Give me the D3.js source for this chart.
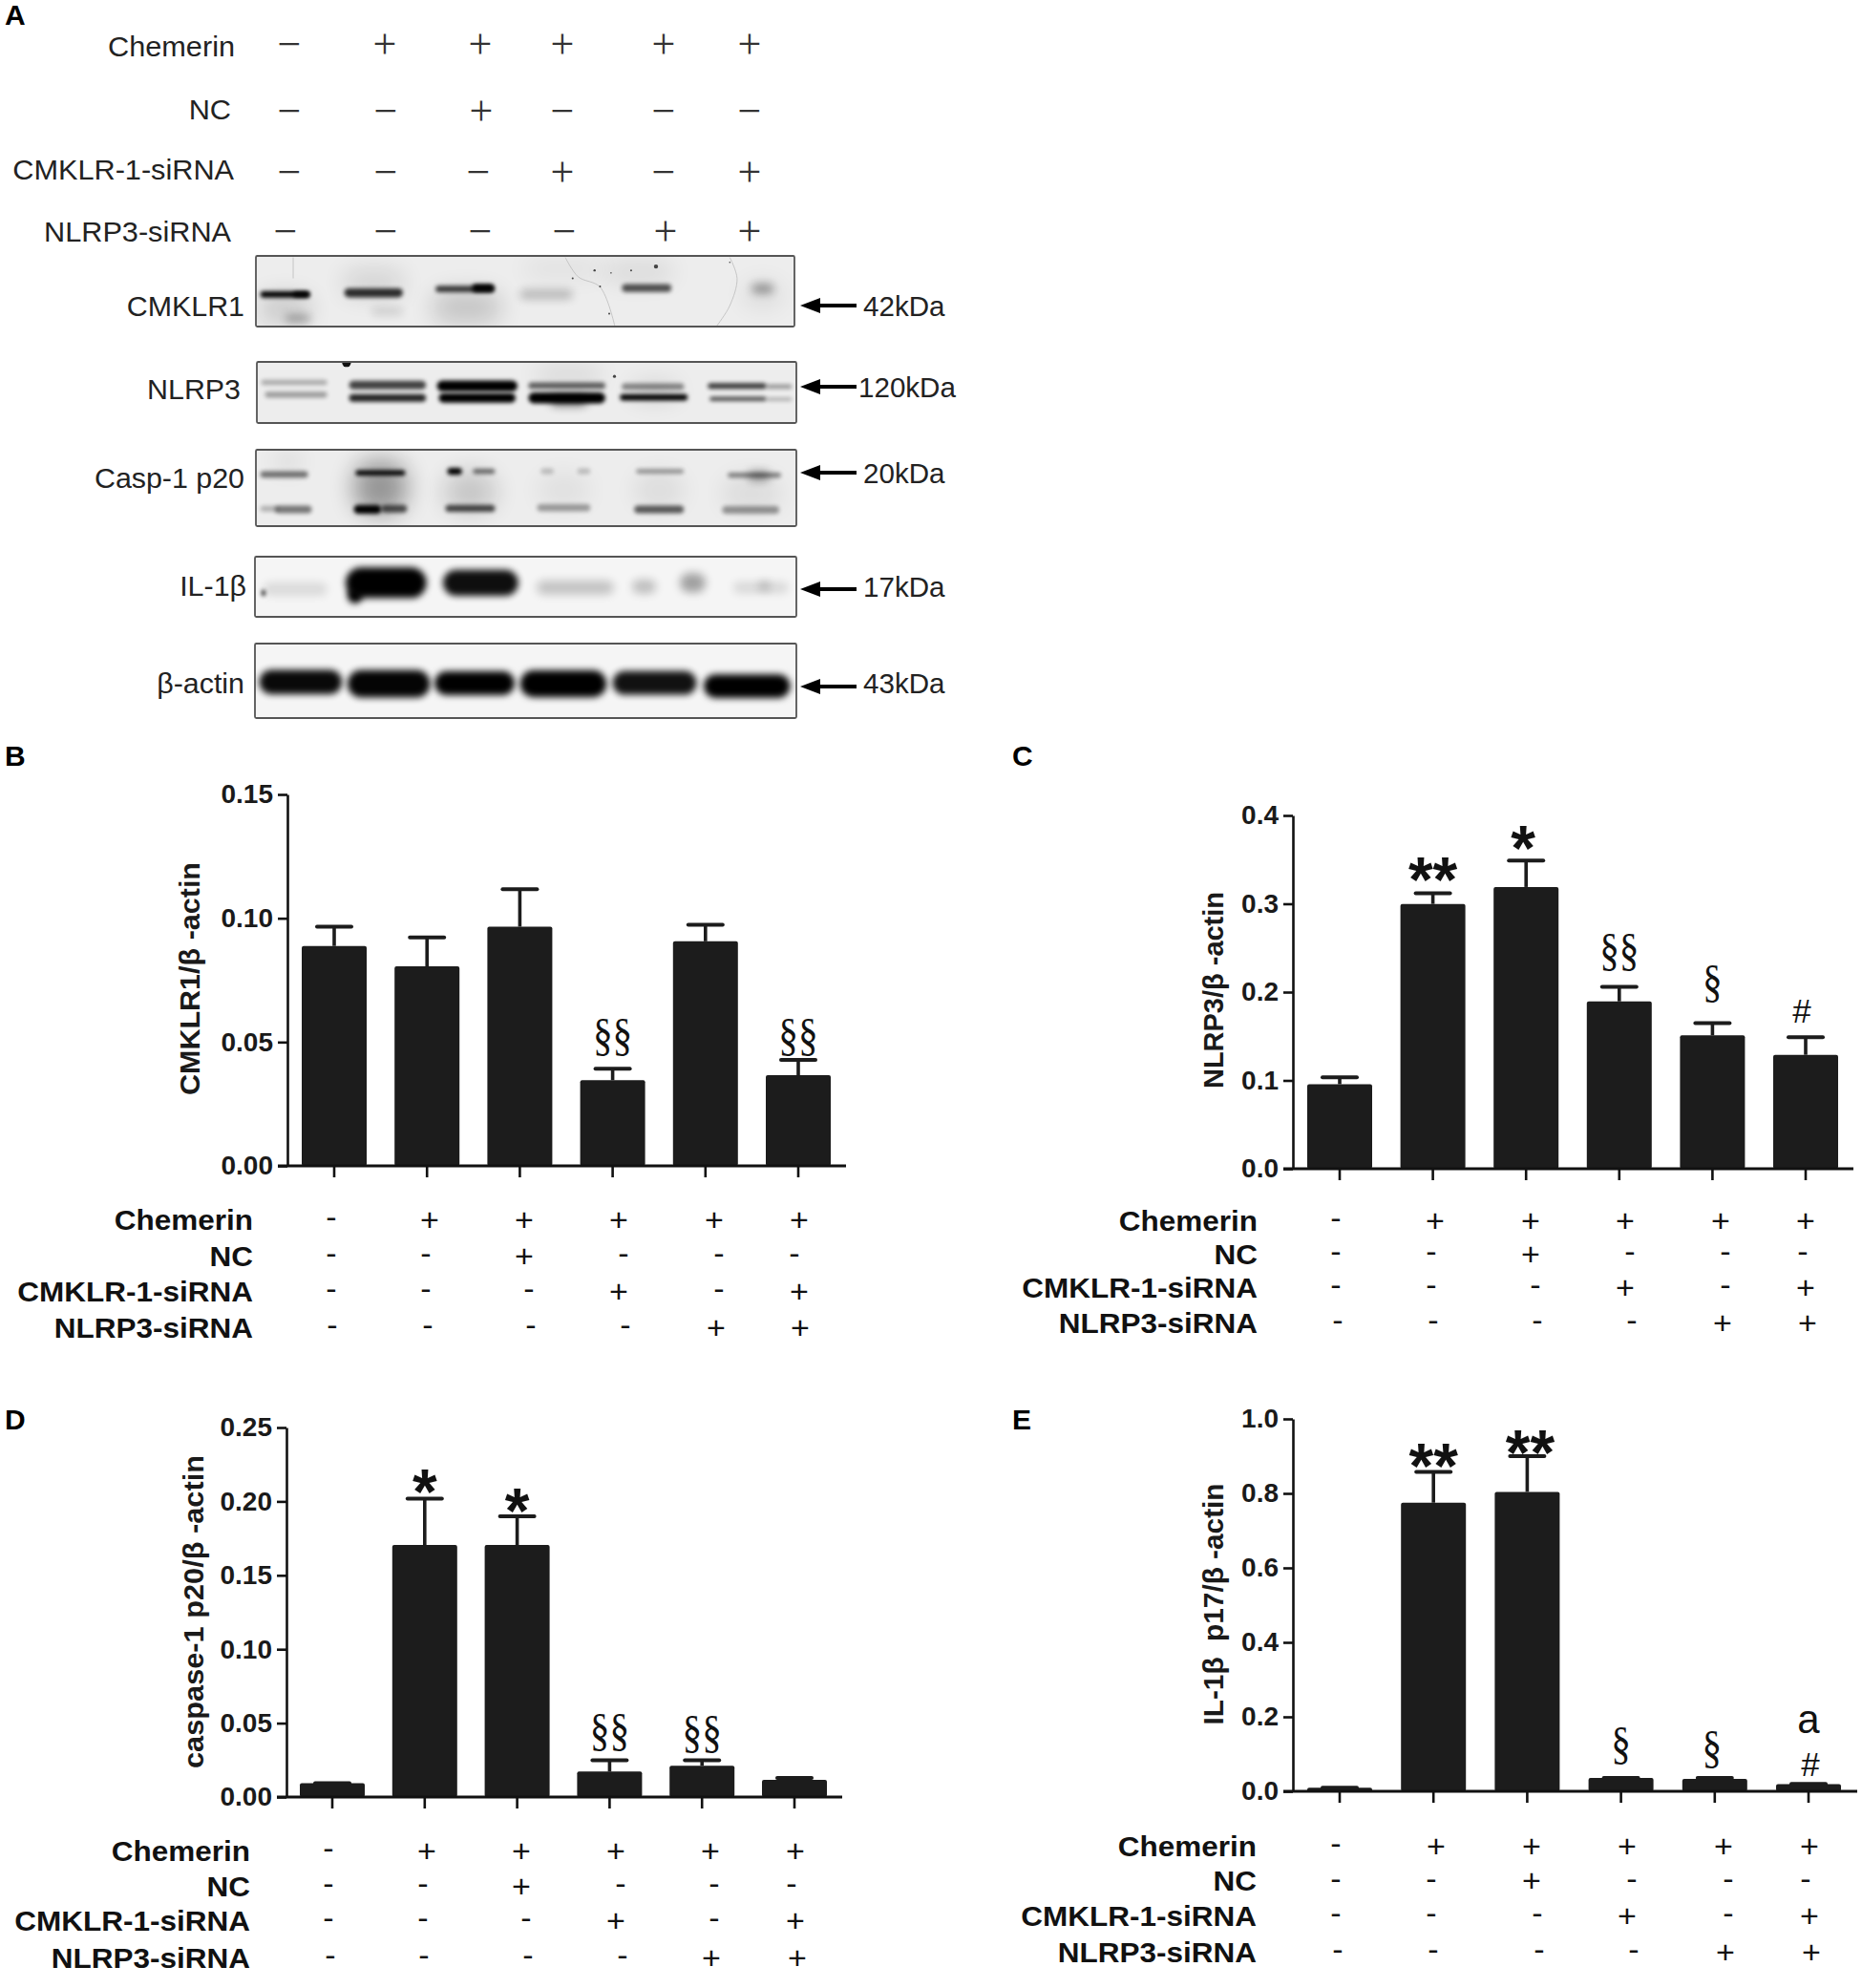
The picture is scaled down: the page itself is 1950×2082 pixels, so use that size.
<!DOCTYPE html>
<html><head><meta charset="utf-8">
<script src="https://cdn.jsdelivr.net/npm/d3@7"></script>
<style>html,body{margin:0;padding:0;background:#fff}svg{display:block}text{font-family:"Liberation Sans",Arial,sans-serif;fill:#1a1a1a}</style>
</head><body><svg id="fig" width="1950" height="2082" viewBox="0 0 1950 2082"></svg>
<script>
// ---- Data ----
const rowNames = ["Chemerin","NC","CMKLR-1-siRNA","NLRP3-siRNA"];
const chemerin = ["-","+","+","+","+","+"];
const nc       = ["-","-","+","-","-","-"];
const cmklrSi  = ["-","-","-","+","-","+"];
const nlrp3Si  = ["-","-","-","-","+","+"];
const conditions = [chemerin,nc,cmklrSi,nlrp3Si];

const valuesB = [0.0888,0.0806,0.0966,0.0346,0.0907,0.0366];
const errTopB = [0.0966,0.0923,0.1117,0.0392,0.0974,0.0428];
const ticksB  = [0,0.05,0.10,0.15];
const valuesC = [0.0957,0.2998,0.319,0.1895,0.151,0.129];
const errTopC = [0.1034,0.312,0.349,0.206,0.165,0.149];
const ticksC  = [0,0.1,0.2,0.3,0.4];
const valuesD = [0.0093,0.1705,0.1705,0.0172,0.0212,0.0117];
const errTopD = [0.0093,0.2018,0.190,0.0249,0.0249,0.0130];
const ticksD  = [0,0.05,0.10,0.15,0.20,0.25];
const valuesE = [0.0094,0.775,0.804,0.0357,0.0336,0.019];
const errTopE = [0.0094,0.858,0.900,0.036,0.036,0.020];
const ticksE  = [0,0.2,0.4,0.6,0.8,1.0];

const blotNames = ["CMKLR1","NLRP3","Casp-1 p20","IL-1β","β-actin"];
const blotSizes = ["42kDa","120kDa","20kDa","17kDa","43kDa"];
// Band readings from the scan: [from, to, centre, thickness, density, softness]
const bandsCMKLR1 = [
 [55,200,220,90,.15,3],[130,195,250,18,.4,2],[60,195,175,20,1,1],[150,195,175,16,.9,1],
 [285,455,140,90,.1,3],[290,450,170,28,.8,1],[365,450,228,22,.14,2],
 [530,720,215,100,.17,3],[540,700,158,20,.75,1],[640,700,155,24,1,1],
 [770,915,175,30,.22,2],[780,1000,95,60,.05,3],
 [1050,1185,155,24,.66,1],[1000,1190,105,70,.08,3],
 [1405,1465,157,30,.36,2],[1380,1490,175,80,.07,3]];
const bandsNLRP3 = [
 [60,240,452,16,.28,1],[70,240,490,18,.34,1],
 [300,510,460,27,.72,1],[300,510,500,24,.85,1],
 [540,760,463,34,1,1],[545,755,500,30,1,1],
 [790,1000,462,20,.6,1],[790,1000,500,34,1,1],[850,950,510,30,.5,2],[810,990,430,50,.1,3],
 [1045,1215,465,20,.44,1],[1040,1225,498,20,1,1],[1070,1200,480,60,.1,3],
 [1280,1440,463,18,.76,1],[1440,1510,465,14,.36,1],[1285,1440,503,14,.68,1],[1440,1510,504,10,.3,1]];
const bandsCasp = [
 [60,190,110,20,.52,1],[100,170,70,50,.1,3],[60,110,218,18,.25,1],[100,200,220,24,.5,1],
 [315,460,150,170,.36,3],[320,455,105,16,1,1],[315,390,220,28,1,1],[390,460,218,24,.65,1],
 [560,705,165,130,.16,3],[570,610,100,22,1,1],[640,700,100,16,.55,1],[565,700,217,22,.7,1],
 [825,860,100,18,.2,1],[925,960,100,18,.2,1],[815,960,215,22,.34,1],[815,960,160,110,.05,3],
 [1085,1215,100,14,.38,1],[1080,1215,220,24,.62,1],[1080,1215,160,110,.07,3],
 [1335,1480,112,16,.45,1],[1390,1450,115,30,.38,2],[1320,1475,222,24,.38,1],[1320,1480,170,110,.07,3]];
const bandsIL1b = [
 [70,245,470,40,.11,2],[66,76,482,20,.9,1],
 [295,515,450,96,1,1.5],[300,340,490,50,1,1.5],
 [560,765,450,82,.94,1.5],
 [815,1025,465,44,.2,2],
 [1075,1140,462,44,.22,2],[1205,1275,450,60,.34,2],
 [1350,1500,465,34,.12,2],[1420,1450,460,34,.18,2]];
const bandsActin = [
 [60,285,762,76,.96,1.5],[300,525,768,86,.98,1.5],[537,755,766,74,1,1.5],
 [770,1005,768,84,1,1.5],[1022,1250,765,74,.93,1.5],[1270,1505,775,74,1,1.5]];
const blotBands = [bandsCMKLR1,bandsNLRP3,bandsCasp,bandsIL1b,bandsActin];

// ---- Layout ----
const svg = d3.select("#fig");
const defs = svg.append("defs");
[[1,2.2],[1.5,3.6],[2,5],[3,12]].forEach(([k,s])=>{
  defs.append("filter").attr("id","soft"+String(k).replace(".","_"))
    .attr("filterUnits","userSpaceOnUse").attr("x",240).attr("y",250).attr("width",620).attr("height",520)
    .append("feGaussianBlur").attr("stdDeviation",s);
});
function txt(g,x,y,s,o={}){
  return g.append("text").attr("transform",`translate(${x},${y}) scale(${o.sx||1},1)`)
   .attr("font-size",o.size||28).attr("font-weight",o.weight||"normal")
   .attr("text-anchor",o.anchor||"start")
   .style("font-family",o.family||null).style("fill",o.fill||null).text(s);
}
const blotLayout = [
 {x0:268,x1:832,y0:268,y1:342,dy:[55,275],arrow:320,ly:320,lr:256,sy:320},
 {x0:269,x1:834,y0:379,y1:443,dy:[388,578],arrow:405,ly:407,lr:252,sy:405},
 {x0:268,x1:834,y0:471,y1:551,dy:[32,273],arrow:495,ly:500,lr:256,sy:495},
 {x0:267,x1:834,y0:583,y1:646,dy:[368,557],arrow:617,ly:613,lr:258,sy:614},
 {x0:267,x1:834,y0:674,y1:752,dy:[642,875],arrow:719,ly:715,lr:256,sy:715}];
const blots = svg.append("g");
blotLayout.forEach((b,i)=>{
  const gx=d3.scaleLinear().domain([48,1522]).range([b.x0,b.x1]);
  const gy=d3.scaleLinear().domain(b.dy).range([b.y0,b.y1]);
  const id="clipb"+i;
  defs.append("clipPath").attr("id",id).append("rect").attr("x",b.x0).attr("y",b.y0).attr("width",b.x1-b.x0).attr("height",b.y1-b.y0);
  const g=blots.append("g");
  const inner=g.append("g").attr("clip-path",`url(#${id})`);
  inner.append("rect").attr("x",b.x0).attr("y",b.y0).attr("width",b.x1-b.x0).attr("height",b.y1-b.y0).attr("fill",i<3?"#ededed":"#f5f5f5");
  inner.selectAll("rect.band").data(blotBands[i]).join("rect").attr("class","band")
   .attr("x",d=>gx(d[0])).attr("width",d=>gx(d[1])-gx(d[0]))
   .attr("y",d=>gy(d[2])-(gy(d[3])-gy(0))/2).attr("height",d=>gy(d[3])-gy(0))
   .attr("rx",d=>Math.min(22,(gy(d[3])-gy(0))/2)).attr("fill","#000").attr("opacity",d=>d[4])
   .attr("filter",d=>`url(#soft${String(d[5]).replace(".","_")})`);
  if(i===0){
    const crack=d3.line().x(d=>gx(d[0])).y(d=>gy(d[1])).curve(d3.curveCatmullRom);
    [[[895,60],[930,120],[990,152],[1030,272]],[[1345,60],[1365,125],[1345,210],[1310,272]],[[150,60],[150,125]]].forEach(p=>
      inner.append("path").attr("d",crack(p)).attr("fill","none").attr("stroke","#bbb").attr("stroke-width",.8));
    [[975,100,1.2],[1143,88,2.2],[1075,100,1],[915,125,1],[990,150,1],[1015,235,1],[1345,75,.8],[1020,108,.8]].forEach(p=>
      inner.append("circle").attr("cx",gx(p[0])).attr("cy",gy(p[1])).attr("r",p[2]).attr("fill","#444"));
  }
  if(i===1){
    inner.append("ellipse").attr("cx",gx(293)).attr("cy",gy(392)).attr("rx",4.5).attr("ry",4).attr("fill","#111");
    inner.append("circle").attr("cx",gx(1025)).attr("cy",gy(433)).attr("r",1.6).attr("fill","#444");
  }
  g.append("rect").attr("x",b.x0).attr("y",b.y0).attr("width",b.x1-b.x0).attr("height",b.y1-b.y0)
   .attr("rx",1.5).attr("fill","none").attr("stroke","#555").attr("stroke-width",1.8);
  // name, arrow, size
  txt(g,b.lr,b.ly+10.5,blotNames[i],{size:29.5,anchor:"end",sx:1.03,fill:"#222"});
  const ay=b.arrow, tip=838;
  g.append("path").attr("d",`M${tip},${ay}L${tip+21},${ay-8}L${tip+21},${ay-2}L897,${ay-2}L897,${ay+2}L${tip+21},${ay+2}L${tip+21},${ay+8}Z`).attr("fill","#000");
  txt(g,i===1?899:904,b.sy+10.5,blotSizes[i],{size:29,sx:1.02,fill:"#222"});
});

// top condition rows
const topMarkY=[50,120,184,246];
const topLabelBase=[59,125,188,253];
const topLabelRight=[246,242,245,242];
const topX=[[303,403,503,589,695,785],[303,404,504,589,695,785],[303,404,501,589,695,785],[299,404,503,591,697,785]];
const topG=svg.append("g");
rowNames.forEach((n,r)=>{
  txt(topG,topLabelRight[r],topLabelBase[r],n,{size:29.5,anchor:"end",sx:1.04,fill:"#222"});
  conditions[r].forEach((c,i)=>{
    const s=44,fam='"Liberation Serif"';
    txt(topG,topX[r][i],topMarkY[r]+(c==="+"?.24:.25)*s,c==="+"?"+":"−",{size:s,anchor:"middle",family:fam,fill:"#333"});
  });
});

// panel letters
[["A",5,26],["B",5,802],["C",1060,802],["D",5,1497],["E",1060,1497]].forEach(d=>txt(svg,d[1],d[2],d[0],{size:30,weight:"bold",fill:"#000"}));

// bar panels
const panels=[
 {values:valuesB,err:errTopB,ticks:ticksB,fmt:".2f",max:.15,axisX:301,top:832,zero:1221,c0:350,c5:836,right:886,
  title:"CMKLR1/β -actin",tx:209,tc:1025,tl:244,labelRight:265,rowY:[1277,1315,1352,1390],
  rowX:[[347,450,549,648,748,837],[347,446,549,653,753,832],[347,446,554,648,753,837],[348,448,556,655,750,838]],
  notes:[{bar:3,s:"§§",up:12.5},{bar:5,s:"§§",up:3}]},
 {values:valuesC,err:errTopC,ticks:ticksC,fmt:".1f",max:.4,axisX:1354,top:854,zero:1224,c0:1403,c5:1891,right:1941,
  title:"NLRP3/β -actin",tx:1281,tc:1037,tl:206,labelRight:1317,rowY:[1278,1313,1348,1385],
  rowX:[[1399,1503,1603,1702,1802,1891],[1399,1499,1603,1707,1807,1888],[1399,1499,1608,1702,1807,1891],[1401,1501,1610,1709,1804,1893]],
  notes:[{bar:1,s:"**",up:18},{bar:2,s:"*",up:17.5,dx:-3},{bar:3,s:"§§",up:15.5},{bar:4,s:"§",up:20},{bar:5,s:"#",up:15,dx:-4}]},
 {values:valuesD,err:errTopD,ticks:ticksD,fmt:".2f",max:.25,axisX:300,top:1495,zero:1882,c0:348,c5:832,right:882,
  title:"caspase-1 p20/β -actin",tx:213,tc:1688,tl:328,labelRight:262,rowY:[1938,1975,2011,2050],
  rowX:[[344,447,546,645,744,833],[344,443,546,650,748,829],[344,443,551,645,748,833],[346,444,553,652,745,835]],
  notes:[{bar:1,s:"*",up:11.6},{bar:2,s:"*",up:10},{bar:3,s:"§§",up:8.5},{bar:4,s:"§§",up:6.5}]},
 {values:valuesE,err:errTopE,ticks:ticksE,fmt:".1f",max:1,axisX:1354,top:1486,zero:1876,c0:1403,c5:1894,right:1945,
  title:"IL-1β\u00a0\u00a0p17/β -actin",tx:1281,tc:1680,tl:253,labelRight:1316,rowY:[1933,1969.5,2006,2044],
  rowX:[[1399,1504,1604,1704,1805,1895],[1399,1499,1604,1709,1810,1891],[1399,1499,1610,1704,1810,1895],[1401,1501,1612,1711,1807,1897]],
  notes:[{bar:1,s:"**",up:10},{bar:2,s:"**",up:8,dx:3},{bar:3,s:"§",up:13},{bar:4,s:"§",up:9,dx:-3},{bar:5,s:"#",up:8,dx:2},{bar:5,s:"a",up:53}]}
];
const noteStyle={
 "§":{size:48,sx:.86,down:-7,family:'"Liberation Serif"',weight:"normal"},
 "*":{size:66,down:27,weight:"bold"},
 "#":{size:35,down:0,weight:"normal"},
 "a":{size:42,down:0,weight:"normal"}};
panels.forEach(p=>{
  const g=svg.append("g");
  const y=d3.scaleLinear().domain([0,p.max]).range([p.zero,p.top]);
  const step=(p.c5-p.c0)/5;
  const x=d3.scaleBand().domain(d3.range(6)).range([p.c0-step/2,p.c5+step/2]).paddingInner(1-68/step).paddingOuter((1-68/step)/2);
  const mid=i=>x(i)+x.bandwidth()/2;
  // bars
  g.selectAll("rect.bar").data(p.values).join("rect").attr("class","bar")
   .attr("x",(d,i)=>x(i)).attr("width",x.bandwidth())
   .attr("y",d=>y(d)).attr("height",d=>p.zero-y(d)).attr("rx",2).attr("fill","#1c1c1c");
  // error bars
  g.selectAll("line.err").data(p.err).join("line").attr("class","err")
   .attr("x1",(d,i)=>mid(i)).attr("x2",(d,i)=>mid(i))
   .attr("y1",(d,i)=>y(p.values[i])).attr("y2",d=>y(d))
   .attr("stroke","#1c1c1c").attr("stroke-width",3.6);
  g.selectAll("line.cap").data(p.err).join("line").attr("class","cap")
   .attr("x1",(d,i)=>mid(i)-18).attr("x2",(d,i)=>mid(i)+18)
   .attr("y1",d=>y(d)).attr("y2",d=>y(d))
   .attr("stroke","#1c1c1c").attr("stroke-width",4).attr("stroke-linecap","round");
  // y axis
  const ya=g.append("g").attr("transform",`translate(${p.axisX},0)`)
   .call(d3.axisLeft(y).tickValues(p.ticks).tickFormat(d3.format(p.fmt)).tickSize(10).tickPadding(5).tickSizeOuter(0));
  ya.selectAll("path,line").attr("stroke","#111").attr("stroke-width",2.6);
  ya.selectAll("text").attr("font-size",28).attr("font-weight","bold").style("font-family",'"Liberation Sans"').style("fill","#1a1a1a");
  // x axis
  const xa=g.append("g").attr("transform",`translate(0,${p.zero})`)
   .call(d3.axisBottom(x).tickSize(12).tickFormat("").tickSizeOuter(0));
  xa.select(".domain").remove();
  xa.selectAll("line").attr("stroke","#111").attr("stroke-width",2.6);
  g.append("line").attr("x1",p.axisX-10).attr("x2",p.right).attr("y1",p.zero).attr("y2",p.zero).attr("stroke","#111").attr("stroke-width",2.8);
  // y title
  g.append("text").attr("transform",`translate(${p.tx},${p.tc}) rotate(-90)`)
   .attr("text-anchor","middle").attr("font-size",29).attr("font-weight","bold")
   .attr("textLength",p.tl).attr("lengthAdjust","spacingAndGlyphs").style("fill","#1a1a1a").text(p.title);
  // rows
  rowNames.forEach((n,r)=>{
    txt(g,p.labelRight,p.rowY[r]+10.5,n,{size:30,weight:"bold",anchor:"end",sx:1.05,fill:"#111"});
    conditions[r].forEach((c,i)=>{
      const s=34;
      txt(g,p.rowX[r][i],p.rowY[r]+(c==="+"?.34:.27)*s,c,{size:s,anchor:"middle",fill:"#111"});
    });
  });
  // significance marks
  p.notes.forEach(n=>{
    const st=noteStyle[n.s[0]];
    txt(g,mid(n.bar)+(n.dx||0),y(p.err[n.bar])-n.up+st.down,n.s,{size:st.size,sx:st.sx,weight:st.weight,anchor:"middle",family:st.family,fill:"#111"});
  });
});
</script></body></html>
